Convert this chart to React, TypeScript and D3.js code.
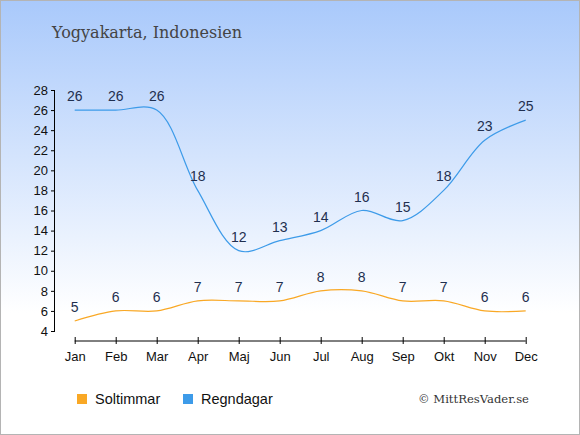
import { useEffect, useRef } from "react";
import * as d3 from "d3";

const months = ["Jan", "Feb", "Mar", "Apr", "Maj", "Jun", "Jul", "Aug", "Sep", "Okt", "Nov", "Dec"];
const sunHours = [5, 6, 6, 7, 7, 7, 8, 8, 7, 7, 6, 6];
const rainDays = [26, 26, 26, 18, 12, 13, 14, 16, 15, 18, 23, 25];
const yTicks = [4, 6, 8, 10, 12, 14, 16, 18, 20, 22, 24, 26, 28];

const sunColor = "#f9a825";
const rainColor = "#3d9be9";

export default function App() {
    const svgRef = useRef<SVGSVGElement>(null);

    useEffect(() => {
        if (!svgRef.current) return;
        const width = 580;
        const height = 435;

        const svg = d3.select(svgRef.current);
        svg.selectAll("*").remove();

        const defs = svg.append("defs");
        const grad = defs.append("linearGradient")
            .attr("id", "bg")
            .attr("x1", 0).attr("y1", 0)
            .attr("x2", 0).attr("y2", 1);
        grad.append("stop").attr("offset", "0%").attr("stop-color", "#a9c9fb");
        grad.append("stop").attr("offset", "72%").attr("stop-color", "#ffffff");
        grad.append("stop").attr("offset", "100%").attr("stop-color", "#ffffff");

        svg.append("rect")
            .attr("x", 0.5).attr("y", 0.5)
            .attr("width", width - 1).attr("height", height - 1)
            .attr("fill", "url(#bg)")
            .attr("stroke", "#b4b4b4");

        svg.append("text")
            .attr("x", 52).attr("y", 38)
            .attr("font-family", "'DejaVu Serif', serif")
            .attr("font-size", 16)
            .attr("fill", "#444")
            .text("Yogyakarta, Indonesien");

        const x = d3.scalePoint<string>().domain(months).range([74.7, 525.7]);
        const y = d3.scaleLinear().domain([4, 28]).range([331, 90]);

        // y axis
        const yAxis = svg.append("g")
            .attr("transform", "translate(55,0)")
            .call(d3.axisLeft(y).tickValues(yTicks).tickSize(4).tickPadding(3));
        yAxis.select(".domain").attr("d", `M-0.5,${y(4)}V${y(28)}`).attr("stroke", "#000");
        yAxis.selectAll("text")
            .attr("font-family", "'Liberation Sans', Arial, sans-serif")
            .attr("font-size", 13)
            .attr("fill", "#111");

        // x axis
        const xAxis = svg.append("g")
            .attr("transform", "translate(0,341)")
            .call(d3.axisBottom(x).tickSize(0).tickPadding(8));
        xAxis.select(".domain").attr("d", `M${x("Jan")},0H${x("Dec")}`).attr("stroke", "#000");
        xAxis.selectAll(".tick")
            .append("line")
            .attr("y1", -4).attr("y2", 3)
            .attr("stroke", "#000");
        xAxis.selectAll("text")
            .attr("font-family", "'Liberation Sans', Arial, sans-serif")
            .attr("font-size", 13)
            .attr("fill", "#111")
            .attr("dy", "0.9em");

        const line = d3.line<number>()
            .x((_, i) => x(months[i]) as number)
            .y((d) => y(d))
            .curve(d3.curveCatmullRom.alpha(0.5));

        const series = [
            { values: sunHours, color: sunColor },
            { values: rainDays, color: rainColor },
        ];

        series.forEach((s) => {
            svg.append("path")
                .attr("d", line(s.values))
                .attr("fill", "none")
                .attr("stroke", s.color)
                .attr("stroke-width", 1.2);

            svg.append("g")
                .selectAll("text")
                .data(s.values)
                .enter()
                .append("text")
                .attr("x", (_, i) => x(months[i]) as number)
                .attr("y", (d) => y(d) - 9)
                .attr("text-anchor", "middle")
                .attr("font-family", "'Liberation Sans', Arial, sans-serif")
                .attr("font-size", 14)
                .attr("fill", "#1f2f4f")
                .text((d) => d);
        });

        // legend
        const legend = [
            { label: "Soltimmar", color: sunColor, x: 77 },
            { label: "Regndagar", color: rainColor, x: 183 },
        ];
        legend.forEach((l) => {
            svg.append("rect")
                .attr("x", l.x).attr("y", 394)
                .attr("width", 10).attr("height", 10)
                .attr("fill", l.color);
            svg.append("text")
                .attr("x", l.x + 18).attr("y", 404)
                .attr("font-family", "'Liberation Sans', Arial, sans-serif")
                .attr("font-size", 14.5)
                .attr("fill", "#111")
                .text(l.label);
        });

        svg.append("text")
            .attr("x", 418).attr("y", 403)
            .attr("font-family", "'DejaVu Serif', serif")
            .attr("font-size", 11.6)
            .attr("fill", "#333")
            .text("© MittResVader.se");
    }, []);

    return (
        <svg
            ref={svgRef}
            width={580}
            height={435}
            style={{ position: "absolute", left: 0, top: 0 }}
        />
    );
}
